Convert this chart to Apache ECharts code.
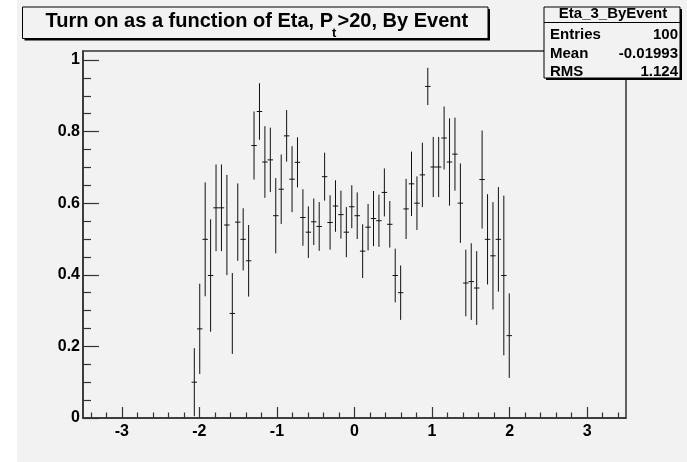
<!DOCTYPE html>
<html><head><meta charset="utf-8">
<script src="https://cdn.jsdelivr.net/npm/echarts@6/dist/echarts.min.js"></script>
<style>html,body{margin:0;padding:0;background:#fff}#c{width:687px;height:462px}</style>
</head><body><div id="c"></div>
<script>
// ---- data ----
const etaCenters = [-2.065,-1.995,-1.925,-1.855,-1.785,-1.715,-1.645,-1.575,-1.505,-1.435,
  -1.365,-1.295,-1.225,-1.155,-1.085,-1.015,-0.945,-0.875,-0.805,-0.735,
  -0.665,-0.595,-0.525,-0.455,-0.385,-0.315,-0.245,-0.175,-0.105,-0.035,
  0.035,0.105,0.175,0.245,0.315,0.385,0.455,0.525,0.595,0.665,
  0.735,0.805,0.875,0.945,1.015,1.085,1.155,1.225,1.295,1.365,
  1.435,1.505,1.575,1.645,1.715,1.785,1.855,1.925,1.995];
const efficiency = [0.100,0.249,0.499,0.398,0.587,0.587,0.539,0.292,0.547,0.499,
  0.439,0.761,0.856,0.715,0.721,0.565,0.639,0.788,0.667,0.714,
  0.560,0.519,0.548,0.535,0.674,0.546,0.592,0.568,0.519,0.590,
  0.565,0.466,0.533,0.557,0.551,0.630,0.541,0.398,0.350,0.584,
  0.654,0.600,0.679,0.926,0.701,0.701,0.782,0.715,0.737,0.600,
  0.377,0.381,0.363,0.666,0.499,0.453,0.499,0.398,0.230];
const errors = [0.095,0.126,0.159,0.157,0.121,0.121,0.140,0.113,0.108,0.087,
  0.100,0.095,0.079,0.100,0.090,0.105,0.097,0.072,0.092,0.070,
  0.079,0.072,0.065,0.068,0.067,0.076,0.072,0.067,0.070,0.060,
  0.065,0.075,0.065,0.077,0.073,0.067,0.065,0.075,0.076,0.084,
  0.090,0.075,0.090,0.052,0.084,0.084,0.088,0.122,0.102,0.111,
  0.093,0.107,0.103,0.137,0.126,0.150,0.146,0.223,0.118];
const BIN_WIDTH = 0.07;
const X_MIN = -3.5, X_MAX = 3.5, Y_MIN = 0, Y_MAX = 1.025;
const xLabelTicks = [-3,-2,-1,0,1,2,3];
const xMinorTicks = [-3.4,-3.2,-2.8,-2.6,-2.4,-2.2,-1.8,-1.6,-1.4,-1.2,-0.8,-0.6,-0.4,-0.2,
  0.2,0.4,0.6,0.8,1.2,1.4,1.6,1.8,2.2,2.4,2.6,2.8,3.2,3.4];
const yLabelTicks = [0,0.2,0.4,0.6,0.8,1];
const yMinorTicks = [0.05,0.1,0.15,0.25,0.3,0.35,0.45,0.5,0.55,0.65,0.7,0.75,0.85,0.9,0.95];
const titleParts = ['Turn on as a function of Eta, P', 't', '>20, By Event'];
const statsName = 'Eta_3_ByEvent';
const statsLabels = ['Entries', 'Mean', 'RMS'];
const statsValues = ['100', '-0.01993', '1.124'];

// ---- chart ----
const chart = echarts.init(document.getElementById('c'), null, {renderer: 'canvas'});
const points = etaCenters.map((x, i) => [x, efficiency[i], errors[i]]);
const AX = '#333';
const labelFont = {fontFamily: 'Liberation Sans', fontWeight: 'bold', fontSize: 16, color: '#000'};
const statFont = 'bold 15px "Liberation Sans"';
const headFont = 'bold 15px "Liberation Sans"';
const titleFont = 'bold 20px "Liberation Sans"';

const statsRowsY = [35, 53.5, 72];
const graphics = [
  {type: 'rect', z: 1, silent: true, shape: {x: 0, y: 0, width: 17, height: 462}, style: {fill: '#fff'}},
  // title pave with shadow
  {type: 'rect', z: 20, shape: {x: 24.5, y: 9, width: 465.5, height: 31.5}, style: {fill: '#000'}},
  {type: 'rect', z: 21, shape: {x: 22.5, y: 7, width: 465.5, height: 31.5}, style: {fill: '#f2f2f2', stroke: '#000', lineWidth: 1}},
  {type: 'text', z: 22, style: {x: 333, y: 21, text: titleParts[0], font: titleFont, fill: '#000', textAlign: 'right', textVerticalAlign: 'middle'}},
  {type: 'text', z: 22, style: {x: 332, y: 33, text: titleParts[1], font: 'bold 13px "Liberation Sans"', fill: '#000', textAlign: 'left', textVerticalAlign: 'middle'}},
  {type: 'text', z: 22, style: {x: 337.5, y: 21, text: titleParts[2], font: titleFont, fill: '#000', textAlign: 'left', textVerticalAlign: 'middle'}},
  // stats pave with shadow
  {type: 'rect', z: 20, shape: {x: 546, y: 9, width: 136, height: 71}, style: {fill: '#000'}},
  {type: 'rect', z: 21, shape: {x: 544, y: 7, width: 136, height: 71}, style: {fill: '#f2f2f2', stroke: '#000', lineWidth: 1}},
  {type: 'line', z: 22, shape: {x1: 544, y1: 22.5, x2: 680, y2: 22.5}, style: {stroke: '#000', lineWidth: 1}},
  {type: 'text', z: 22, style: {x: 613, y: 13.5, text: statsName, font: headFont, fill: '#000', textAlign: 'center', textVerticalAlign: 'middle'}}
];
statsLabels.forEach((lab, i) => {
  graphics.push({type: 'text', z: 22, style: {x: 550, y: statsRowsY[i], text: lab, font: statFont, fill: '#000', textAlign: 'left', textVerticalAlign: 'middle'}});
  graphics.push({type: 'text', z: 22, style: {x: 678, y: statsRowsY[i], text: statsValues[i], font: statFont, fill: '#000', textAlign: 'right', textVerticalAlign: 'middle'}});
});

function fmt(v) { return String(Math.round(v * 100) / 100); }

const option = {
  animation: false,
  backgroundColor: '#f2f2f2',
  grid: {left: 83, right: 61, top: 51, bottom: 44, show: true, borderColor: AX, borderWidth: 1.5,
         backgroundColor: 'transparent', containLabel: false, outerBoundsMode: 'none'},
  xAxis: [
    {type: 'value', min: X_MIN, max: X_MAX, position: 'bottom',
     axisLine: {show: true, onZero: false, lineStyle: {color: AX, width: 1.5}},
     axisTick: {show: true, inside: true, length: 11, customValues: xLabelTicks, lineStyle: {color: AX, width: 1.2}},
     axisLabel: Object.assign({show: true, margin: 6, customValues: xLabelTicks, formatter: fmt}, labelFont),
     splitLine: {show: false}, minorTick: {show: false}},
    {type: 'value', min: X_MIN, max: X_MAX, position: 'bottom',
     axisLine: {show: false, onZero: false},
     axisTick: {show: true, inside: true, length: 5.5, customValues: xMinorTicks, lineStyle: {color: AX, width: 1.2}},
     axisLabel: {show: false}, splitLine: {show: false}}
  ],
  yAxis: [
    {type: 'value', min: Y_MIN, max: Y_MAX, position: 'left',
     axisLine: {show: true, onZero: false, lineStyle: {color: AX, width: 1.5}},
     axisTick: {show: true, inside: true, length: 16, customValues: yLabelTicks, lineStyle: {color: AX, width: 1.2}},
     axisLabel: Object.assign({show: true, margin: 3, customValues: yLabelTicks, formatter: fmt}, labelFont),
     splitLine: {show: false}},
    {type: 'value', min: Y_MIN, max: Y_MAX, position: 'left',
     axisLine: {show: false, onZero: false},
     axisTick: {show: true, inside: true, length: 8, customValues: yMinorTicks, lineStyle: {color: AX, width: 1.2}},
     axisLabel: {show: false}, splitLine: {show: false}}
  ],
  graphic: graphics,
  series: [{
    type: 'custom',
    xAxisIndex: 0, yAxisIndex: 0,
    clip: true,
    data: points,
    renderItem: function (params, api) {
      const x = api.value(0), y = api.value(1), e = api.value(2);
      const c = api.coord([x, y]);
      const hi = api.coord([x, y + e]);
      const lo = api.coord([x, Math.max(Y_MIN, y - e)]);
      const half = api.size([BIN_WIDTH, 0])[0] / 2;
      return {type: 'group', children: [
        {type: 'line', shape: {x1: c[0], y1: hi[1], x2: c[0], y2: lo[1]}, style: {stroke: '#111', lineWidth: 1}},
        {type: 'line', shape: {x1: c[0] - half, y1: c[1], x2: c[0] + half, y2: c[1]}, style: {stroke: '#111', lineWidth: 1}}
      ]};
    }
  }]
};
chart.setOption(option);
</script>
</body></html>
